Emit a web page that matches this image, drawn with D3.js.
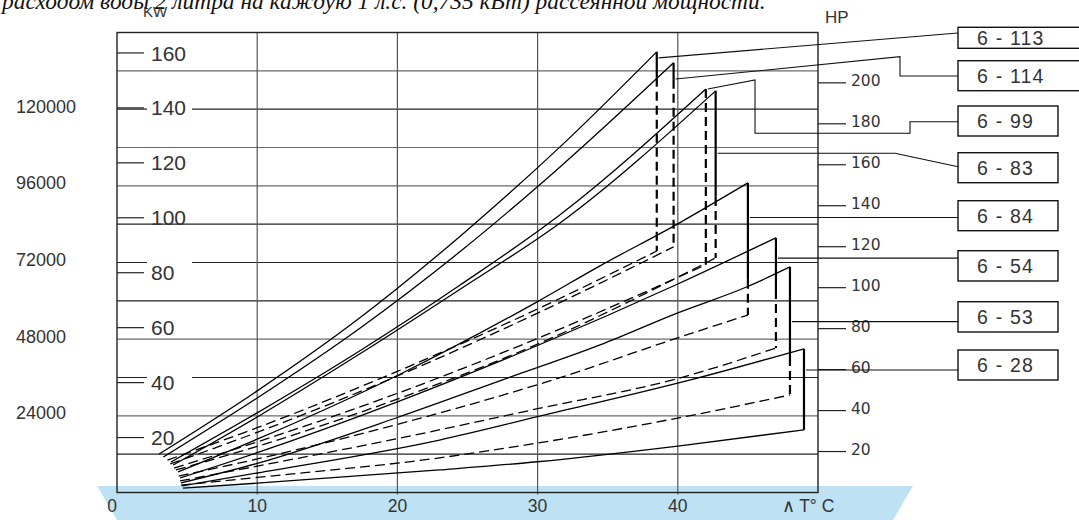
<!DOCTYPE html>
<html>
<head>
<meta charset="utf-8">
<script src="https://cdn.jsdelivr.net/npm/d3@7"></script>
<style>
  body { margin: 0; background: #fff; }
  svg { display: block; }
</style>
</head>
<body>
<svg id="svg"></svg>
<script>
// chart values (temperature rise in °C, power in kW)
const models = ["6 - 113", "6 - 114", "6 - 99", "6 - 83", "6 - 84", "6 - 54", "6 - 53", "6 - 28"];
const tempTicks = [0, 10, 20, 30, 40];
const kwTicks = [20, 40, 60, 80, 100, 120, 140, 160];
const hpTicks = [20, 40, 60, 80, 100, 120, 140, 160, 180, 200];
const kcalTicks = [24000, 48000, 72000, 96000, 120000];

// solid upper curve of every model
const upperCurves = [
    [[3.0, 14.0], [10, 37.0], [17.3, 63.5], [24.5, 93.4], [31.6, 125.8], [38.5, 160.4]],
    [[3.3, 12.9], [10, 34.4], [17.3, 59.7], [24.5, 87.8], [31.6, 118.5], [39.7, 156.4]],
    [[3.85, 11.1], [10, 29.0], [17.3, 51.5], [24.5, 75.6], [31.6, 101.1], [42.0, 146.9]],
    [[4.0, 10.0], [10, 27.5], [17.3, 50.4], [24.5, 74.1], [31.6, 98.1], [42.7, 146.2]],
    [[4.35, 7.5], [10, 19.4], [20, 42.6], [30, 69.5], [34.45, 82.5], [40, 97.8], [45.0, 112.7]],
    [[4.5, 5.3], [10, 14.5], [20, 33.0], [30, 53.5], [40, 75.9], [47, 92.7]],
    [[4.56, 3.5], [10, 10.6], [20, 27.3], [27.5, 41.0], [34.45, 53.7], [40, 65.4], [44.9, 74.8], [48, 82.1]],
    [[4.64, 2.4], [10, 7.1], [23, 19.1], [30, 27.6], [40.9, 41.0], [49, 52.3]]
];

// lower curve of every model
const lowerCurves = [
    [[3.6, 11.8], [10, 23.6], [20, 44.1], [30, 66.8], [38.5, 87.9]],
    [[3.8, 10.4], [10, 21.9], [20, 42.4], [30, 65.3], [39.7, 89.4]],
    [[4.07, 8.9], [10, 18.4], [20, 36.1], [30, 56.1], [42.0, 82.9]],
    [[4.2, 8.2], [10, 16.8], [20, 34.0], [30, 54.0], [42.7, 85.4]],
    [[4.4, 6.0], [10, 12.2], [20, 24.8], [31.1, 41.0], [40, 56.3], [45, 64.6]],
    [[4.5, 4.2], [10, 9.6], [20, 19.6], [30, 30.5], [40, 41.5], [47, 52.6]],
    [[4.56, 2.7], [10, 5.5], [23, 12.6], [30, 18.0], [40, 27.1], [48, 35.5]],
    [[4.71, 1.6], [10, 3.4], [23, 8.2], [30, 11.2], [40, 16.9], [49, 22.8]]
];

// where the closing vertical changes from solid to dashed (kW)
const splitKw = [151.0, 150.2, 146.9, 107.6, 77.4, 73.7, 49.3, 22.8];
// where each leader line leaves its vertical (kW)
const leaderKw = [158.2, 150.5, 146.9, 123.5, 100.1, 85.3, 62.2, 44.6];

const title = "расходом воды 2 литра на каждую 1 л.с. (0,735 кВт) рассеянной мощности.";

document.addEventListener("DOMContentLoaded", () => draw());

function draw() {
    const width = 1079, height = 520;
    const left = 117, right = 818, top = 32.5, bottom = 492.5;

    const svg = d3.select("#svg")
        .attr("width", width)
        .attr("height", height)
        .style("font-family", "'Liberation Sans', Arial, sans-serif");

    const x = d3.scaleLinear().domain([0, 50]).range([left, right]);
    const yKcal = d3.scaleLinear().domain([0, 144000]).range([bottom, top]);
    const y = d3.scaleLinear().domain([0, 144000 / 860]).range([bottom, top]);       // kW
    const yHp = d3.scaleLinear().domain([0, 144000 / 641.2]).range([bottom, top]);   // HP

    // blue band under the temperature axis
    svg.append("path")
        .attr("d", `M97,486 L913,486 L893,520 L117,520 Z`)
        .attr("fill", "#bee2f4");

    // title line, cut by the top of the page
    svg.append("text")
        .attr("x", 2).attr("y", 9)
        .attr("font-family", "'Liberation Serif', 'Times New Roman', serif")
        .attr("font-style", "italic")
        .attr("font-size", 23.4)
        .attr("fill", "#111")
        .text(title);

    // horizontal grid every 12000 kcal/h
    const darkRows = [12000, 36000, 60000, 72000, 84000, 120000];
    svg.append("g")
        .selectAll("line")
        .data(d3.range(12000, 144000, 12000))
        .join("line")
        .attr("x1", left).attr("x2", right)
        .attr("y1", d => yKcal(d)).attr("y2", d => yKcal(d))
        .attr("stroke", d => darkRows.includes(d) ? "#222" : "#6a6a6a")
        .attr("stroke-width", 1.2);

    // vertical grid
    svg.append("g")
        .selectAll("line")
        .data(tempTicks.slice(1))
        .join("line")
        .attr("x1", d => x(d)).attr("x2", d => x(d))
        .attr("y1", top).attr("y2", bottom + 2)
        .attr("stroke", "#555")
        .attr("stroke-width", 1.2);

    // frame
    svg.append("rect")
        .attr("x", left).attr("y", top)
        .attr("width", right - left).attr("height", bottom - top)
        .attr("fill", "none")
        .attr("stroke", "#222")
        .attr("stroke-width", 1.4);

    // kW scale inside the left edge
    const kw = svg.append("g").attr("fill", "#333");
    kw.selectAll("line.tick")
        .data(kwTicks)
        .join("line")
        .attr("class", "tick")
        .attr("x1", left).attr("x2", left + 27)
        .attr("y1", d => y(d)).attr("y2", d => y(d))
        .attr("stroke", "#222").attr("stroke-width", 1.2);
    kw.selectAll("rect")
        .data(kwTicks)
        .join("rect")
        .attr("x", left + 30).attr("y", d => y(d) - 12)
        .attr("width", 45).attr("height", 15)
        .attr("fill", "#fff");
    kw.selectAll("text")
        .data(kwTicks)
        .join("text")
        .attr("x", left + 34).attr("y", d => y(d))
        .attr("dy", "0.36em")
        .attr("font-size", 21)
        .text(d => d);
    svg.append("text")
        .attr("x", 143).attr("y", 17)
        .attr("font-size", 15).attr("fill", "#333")
        .text("KW");

    // kcal/h labels outside the frame
    svg.append("g")
        .selectAll("text")
        .data(kcalTicks)
        .join("text")
        .attr("x", 16).attr("y", d => yKcal(d) - 3)
        .attr("dy", "0.36em")
        .attr("font-size", 18)
        .attr("fill", "#333")
        .text(d => d);

    // HP scale on the right
    const hp = svg.append("g");
    hp.selectAll("line")
        .data(hpTicks)
        .join("line")
        .attr("x1", right).attr("x2", right + 28)
        .attr("y1", d => yHp(d)).attr("y2", d => yHp(d))
        .attr("stroke", "#222").attr("stroke-width", 1.2);
    hp.selectAll("text")
        .data(hpTicks)
        .join("text")
        .attr("x", right + 33).attr("y", d => yHp(d) - 2)
        .attr("dy", "0.36em")
        .attr("font-family", "'DejaVu Sans', sans-serif")
        .attr("font-size", 15.5)
        .attr("fill", "#333")
        .text(d => d);
    svg.append("text")
        .attr("x", 825).attr("y", 23)
        .attr("font-size", 17).attr("fill", "#333")
        .text("HP");

    // temperature axis labels
    svg.append("g")
        .selectAll("text")
        .data(tempTicks)
        .join("text")
        .attr("x", d => x(d) - (d === 0 ? 5 : 0))
        .attr("y", 506)
        .attr("dy", "0.36em")
        .attr("text-anchor", "middle")
        .attr("font-size", 17.5)
        .attr("fill", "#333")
        .text(d => d);
    svg.append("text")
        .attr("x", 808).attr("y", 506)
        .attr("dy", "0.36em")
        .attr("text-anchor", "middle")
        .attr("font-size", 17.5)
        .attr("fill", "#333")
        .text("\u2227 T\u00b0 C");

    // curves
    const line = d3.line()
        .x(d => x(d[0]))
        .y(d => y(d[1]))
        .curve(d3.curveMonotoneX);

    const curves = svg.append("g").attr("fill", "none").attr("stroke", "#000");

    curves.selectAll("path.upper")
        .data(upperCurves)
        .join("path")
        .attr("class", "upper")
        .attr("stroke-width", 1.3)
        .attr("d", line);

    curves.selectAll("path.lower")
        .data(lowerCurves)
        .join("path")
        .attr("class", "lower")
        .attr("stroke-width", 1.3)
        .attr("stroke-dasharray", (d, i) => i === models.length - 1 ? null : "10,5")
        .attr("d", line);

    // closing verticals: solid part then dashed part
    models.forEach((m, i) => {
        const up = upperCurves[i][upperCurves[i].length - 1];
        const low = lowerCurves[i][lowerCurves[i].length - 1];
        const xv = x(up[0]);
        if (splitKw[i] < up[1]) {
            curves.append("line")
                .attr("x1", xv).attr("x2", xv)
                .attr("y1", y(up[1])).attr("y2", y(splitKw[i]))
                .attr("stroke-width", 2.2);
        }
        if (splitKw[i] > low[1]) {
            curves.append("line")
                .attr("x1", xv).attr("x2", xv)
                .attr("y1", y(splitKw[i])).attr("y2", y(low[1]))
                .attr("stroke-width", 2.2)
                .attr("stroke-dasharray", "9,5");
        }
    });

    // legend boxes and leader lines
    const boxTop = [27.3, 60.7, 106, 152.7, 200.7, 250.7, 301.7, 350];
    const boxH = [21, 30, 30, 30, 30, 30.3, 30.3, 30];
    const boxW = [130, 130, 100, 100, 100, 100, 100, 100];
    const boxX = 958;
    const elbows = [
        [[958, 33]],
        [[900, 56.7], [900, 76], [958, 76]],
        [[755, 80], [755, 133.3], [910, 133.3], [910, 121.7], [958, 121.7]],
        [[895, 153.3], [958, 166.7]],
        [[958, null]], [[958, null]], [[958, null]], [[958, null]]
    ];

    const legend = svg.append("g");
    models.forEach((m, i) => {
        const up = upperCurves[i][upperCurves[i].length - 1];
        const sx = x(up[0]) + 2, sy = y(leaderKw[i]);
        const pts = [[sx, sy]].concat(elbows[i].map(p => [p[0], p[1] === null ? sy : p[1]]));
        legend.append("path")
            .attr("d", d3.line()(pts))
            .attr("fill", "none")
            .attr("stroke", "#111")
            .attr("stroke-width", 1.1);
        legend.append("rect")
            .attr("x", boxX).attr("y", boxTop[i])
            .attr("width", boxW[i]).attr("height", boxH[i])
            .attr("fill", "#fff")
            .attr("stroke", "#111")
            .attr("stroke-width", 1.4);
        legend.append("text")
            .attr("x", 977).attr("y", boxTop[i] + boxH[i] / 2)
            .attr("dy", "0.36em")
            .attr("font-size", 19.5)
            .attr("letter-spacing", 1.2)
            .attr("fill", "#333")
            .text(m);
    });
}
</script>
</body>
</html>
